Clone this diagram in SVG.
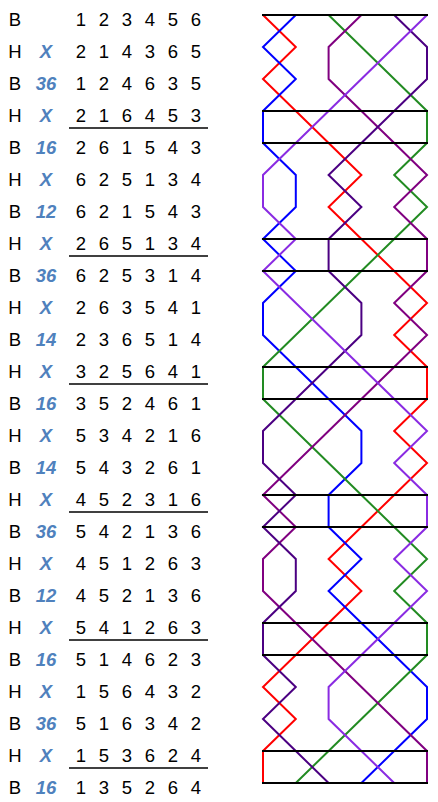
<svg xmlns="http://www.w3.org/2000/svg" width="438" height="802" viewBox="0 0 438 802">
<style>
text{font-family:"Liberation Sans",Arial,sans-serif;font-size:18.5px;fill:#000;text-anchor:middle}
.pn{fill:#4F81BD;font-weight:bold;font-style:italic}
.ul{stroke:#000;stroke-width:1.3}
.bell{fill:none;stroke-width:2;stroke-linejoin:miter}
.lead{stroke:#000;stroke-width:2}
</style>
<rect width="438" height="802" fill="#fff"/>
<g id="table">
<g id="row0"><text x="15" y="26">B</text><text x="81 104 127 150 173 196" y="26">123456</text></g>
<g id="row1"><text x="15" y="58">H</text><text class="pn" x="46" y="58">X</text><text x="81 104 127 150 173 196" y="58">214365</text></g>
<g id="row2"><text x="15" y="90">B</text><text class="pn" x="46" y="90">36</text><text x="81 104 127 150 173 196" y="90">124635</text></g>
<g id="row3"><text x="15" y="122">H</text><text class="pn" x="46" y="122">X</text><text x="81 104 127 150 173 196" y="122">216453</text></g>
<g id="row4"><text x="15" y="154">B</text><text class="pn" x="46" y="154">16</text><text x="81 104 127 150 173 196" y="154">261543</text></g>
<g id="row5"><text x="15" y="186">H</text><text class="pn" x="46" y="186">X</text><text x="81 104 127 150 173 196" y="186">625134</text></g>
<g id="row6"><text x="15" y="218">B</text><text class="pn" x="46" y="218">12</text><text x="81 104 127 150 173 196" y="218">621543</text></g>
<g id="row7"><text x="15" y="250">H</text><text class="pn" x="46" y="250">X</text><text x="81 104 127 150 173 196" y="250">265134</text></g>
<g id="row8"><text x="15" y="282">B</text><text class="pn" x="46" y="282">36</text><text x="81 104 127 150 173 196" y="282">625314</text></g>
<g id="row9"><text x="15" y="314">H</text><text class="pn" x="46" y="314">X</text><text x="81 104 127 150 173 196" y="314">263541</text></g>
<g id="row10"><text x="15" y="346">B</text><text class="pn" x="46" y="346">14</text><text x="81 104 127 150 173 196" y="346">236514</text></g>
<g id="row11"><text x="15" y="378">H</text><text class="pn" x="46" y="378">X</text><text x="81 104 127 150 173 196" y="378">325641</text></g>
<g id="row12"><text x="15" y="410">B</text><text class="pn" x="46" y="410">16</text><text x="81 104 127 150 173 196" y="410">352461</text></g>
<g id="row13"><text x="15" y="442">H</text><text class="pn" x="46" y="442">X</text><text x="81 104 127 150 173 196" y="442">534216</text></g>
<g id="row14"><text x="15" y="474">B</text><text class="pn" x="46" y="474">14</text><text x="81 104 127 150 173 196" y="474">543261</text></g>
<g id="row15"><text x="15" y="506">H</text><text class="pn" x="46" y="506">X</text><text x="81 104 127 150 173 196" y="506">452316</text></g>
<g id="row16"><text x="15" y="538">B</text><text class="pn" x="46" y="538">36</text><text x="81 104 127 150 173 196" y="538">542136</text></g>
<g id="row17"><text x="15" y="570">H</text><text class="pn" x="46" y="570">X</text><text x="81 104 127 150 173 196" y="570">451263</text></g>
<g id="row18"><text x="15" y="602">B</text><text class="pn" x="46" y="602">12</text><text x="81 104 127 150 173 196" y="602">452136</text></g>
<g id="row19"><text x="15" y="634">H</text><text class="pn" x="46" y="634">X</text><text x="81 104 127 150 173 196" y="634">541263</text></g>
<g id="row20"><text x="15" y="666">B</text><text class="pn" x="46" y="666">16</text><text x="81 104 127 150 173 196" y="666">514623</text></g>
<g id="row21"><text x="15" y="698">H</text><text class="pn" x="46" y="698">X</text><text x="81 104 127 150 173 196" y="698">156432</text></g>
<g id="row22"><text x="15" y="730">B</text><text class="pn" x="46" y="730">36</text><text x="81 104 127 150 173 196" y="730">516342</text></g>
<g id="row23"><text x="15" y="762">H</text><text class="pn" x="46" y="762">X</text><text x="81 104 127 150 173 196" y="762">153624</text></g>
<g id="row24"><text x="15" y="794">B</text><text class="pn" x="46" y="794">16</text><text x="81 104 127 150 173 196" y="794">135264</text></g>
<g id="underlines">
<line class="ul" x1="69" y1="128" x2="208" y2="128"/>
<line class="ul" x1="69" y1="256" x2="208" y2="256"/>
<line class="ul" x1="69" y1="384" x2="208" y2="384"/>
<line class="ul" x1="69" y1="512" x2="208" y2="512"/>
<line class="ul" x1="69" y1="640" x2="208" y2="640"/>
<line class="ul" x1="69" y1="768" x2="208" y2="768"/>
</g>
</g>
<g id="bell-lines">
<polyline id="bell1" class="bell" stroke="#FF0000" points="263,15 295.8,47 263,79 295.8,111 328.6,143 361.4,175 328.6,207 361.4,239 394.2,271 427,303 394.2,335 427,367 427,399 394.2,431 427,463 394.2,495 361.4,527 328.6,559 361.4,591 328.6,623 295.8,655 263,687 295.8,719 263,751 263,783"/>
<polyline id="bell2" class="bell" stroke="#0000FF" points="295.8,15 263,47 295.8,79 263,111 263,143 295.8,175 295.8,207 263,239 295.8,271 263,303 263,335 295.8,367 328.6,399 361.4,431 361.4,463 328.6,495 328.6,527 361.4,559 328.6,591 361.4,623 394.2,655 427,687 427,719 394.2,751 361.4,783"/>
<polyline id="bell3" class="bell" stroke="#228B22" points="328.6,15 361.4,47 394.2,79 427,111 427,143 394.2,175 427,207 394.2,239 361.4,271 328.6,303 295.8,335 263,367 263,399 295.8,431 328.6,463 361.4,495 394.2,527 427,559 394.2,591 427,623 427,655 394.2,687 361.4,719 328.6,751 295.8,783"/>
<polyline id="bell4" class="bell" stroke="#800080" points="361.4,15 328.6,47 328.6,79 361.4,111 394.2,143 427,175 394.2,207 427,239 427,271 394.2,303 427,335 394.2,367 361.4,399 328.6,431 295.8,463 263,495 295.8,527 263,559 263,591 295.8,623 328.6,655 361.4,687 394.2,719 427,751 427,783"/>
<polyline id="bell5" class="bell" stroke="#4B0082" points="394.2,15 427,47 427,79 394.2,111 361.4,143 328.6,175 361.4,207 328.6,239 328.6,271 361.4,303 361.4,335 328.6,367 295.8,399 263,431 263,463 295.8,495 263,527 295.8,559 295.8,591 263,623 263,655 295.8,687 263,719 295.8,751 328.6,783"/>
<polyline id="bell6" class="bell" stroke="#8A2BE2" points="427,15 394.2,47 361.4,79 328.6,111 295.8,143 263,175 263,207 295.8,239 263,271 295.8,303 328.6,335 361.4,367 394.2,399 427,431 394.2,463 427,495 427,527 394.2,559 427,591 394.2,623 361.4,655 328.6,687 328.6,719 361.4,751 394.2,783"/>
</g>
<g id="lead-lines">
<line class="lead" x1="262" y1="15" x2="428" y2="15"/>
<line class="lead" x1="262" y1="111" x2="428" y2="111"/>
<line class="lead" x1="262" y1="143" x2="428" y2="143"/>
<line class="lead" x1="262" y1="239" x2="428" y2="239"/>
<line class="lead" x1="262" y1="271" x2="428" y2="271"/>
<line class="lead" x1="262" y1="367" x2="428" y2="367"/>
<line class="lead" x1="262" y1="399" x2="428" y2="399"/>
<line class="lead" x1="262" y1="495" x2="428" y2="495"/>
<line class="lead" x1="262" y1="527" x2="428" y2="527"/>
<line class="lead" x1="262" y1="623" x2="428" y2="623"/>
<line class="lead" x1="262" y1="655" x2="428" y2="655"/>
<line class="lead" x1="262" y1="751" x2="428" y2="751"/>
<line class="lead" x1="262" y1="783" x2="428" y2="783"/>
</g>
</svg>
